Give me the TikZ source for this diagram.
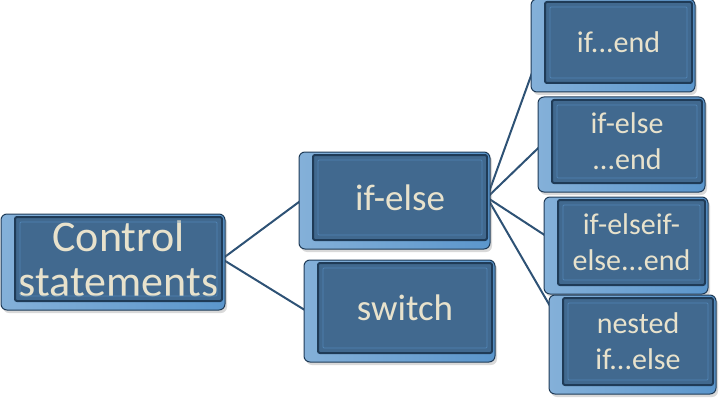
\documentclass[tikz,border=0pt]{standalone}
\usepackage{fontspec}
\setmainfont{Carlito}
\usetikzlibrary{shadows,backgrounds}
\definecolor{face}{HTML}{41698F}
\definecolor{edge}{HTML}{1F3B57}
\definecolor{side}{HTML}{5B96CC}
\definecolor{txt}{HTML}{E8E2CC}
\definecolor{linkc}{HTML}{2E5275}
\tikzset{
 facebox/.style={draw=edge, line width=2pt, fill=face, rounded corners=2pt, text=txt, align=center, inner sep=0pt, outer sep=0pt},
 bigtxt/.style={font=\fontsize{44}{45}\selectfont},
 midtxt/.style={font=\fontsize{37}{40}\selectfont},
 smalltxt/.style={font=\fontsize{30}{36}\selectfont},
 sidebox/.style={left color=side!75!white, right color=side, draw=edge, line width=1pt, rounded corners=6pt, drop shadow={shadow xshift=2pt, shadow yshift=-3pt, opacity=0.3}},
 bevel/.style={draw=side!60!face, line width=0.8pt, rounded corners=1pt},
 linkline/.style={draw=linkc, line width=2pt},
}
\newcommand\sidefor[1]{\path[sidebox] ([xshift=-14pt,yshift=3pt]#1.north west) rectangle ([xshift=3pt,yshift=-9pt]#1.south east);}
\newcommand\bevelfor[1]{\path[bevel] ([xshift=5pt,yshift=-5pt]#1.north west) rectangle ([xshift=-5pt,yshift=5pt]#1.south east);}
\begin{document}
\begin{tikzpicture}[x=1pt,y=-1pt]
\useasboundingbox (0,0) rectangle (719,401);
\node[facebox, bigtxt, minimum width=207pt, minimum height=84pt] (cs) at (118.5,259) {Control\\statements};
\node[facebox, midtxt, minimum width=174pt, minimum height=85pt] (ifelse) at (400,197.5) {if-else};
\node[facebox, midtxt, minimum width=174pt, minimum height=90pt] (sw) at (405,308) {switch};
\node[facebox, smalltxt, minimum width=147pt, minimum height=81pt] (ifend) at (618.5,42.5) {if...end};
\node[facebox, smalltxt, minimum width=150pt, minimum height=83pt] (ifelseend) at (627,141.5) {if-else\\...end};
\node[facebox, smalltxt, minimum width=147pt, minimum height=85pt] (elseif) at (631.5,242.5) {if-elseif-\\else...end};
\node[facebox, smalltxt, minimum width=150pt, minimum height=87pt] (nested) at (638,341.5) {nested\\if...else};
\begin{pgfonlayer}{background}
\draw[linkline] (cs.east) -- ([xshift=-8pt]ifelse.west);
\draw[linkline] (cs.east) -- ([xshift=-10pt,yshift=-4pt]sw.west);
\draw[linkline] (ifelse.east) -- ([xshift=-2pt]ifend.west);
\draw[linkline] (ifelse.east) -- ([xshift=-7pt]ifelseend.west);
\draw[linkline] (ifelse.east) -- ([xshift=-2pt]elseif.west);
\draw[linkline] (ifelse.east) -- ([xshift=-4pt,yshift=20pt]nested.west);
\sidefor{cs}
\sidefor{ifelse}
\sidefor{sw}
\sidefor{ifend}
\sidefor{ifelseend}
\sidefor{elseif}
\sidefor{nested}
\end{pgfonlayer}
\bevelfor{cs}
\bevelfor{ifelse}
\bevelfor{sw}
\bevelfor{ifend}
\bevelfor{ifelseend}
\bevelfor{elseif}
\bevelfor{nested}
\end{tikzpicture}
\end{document}
